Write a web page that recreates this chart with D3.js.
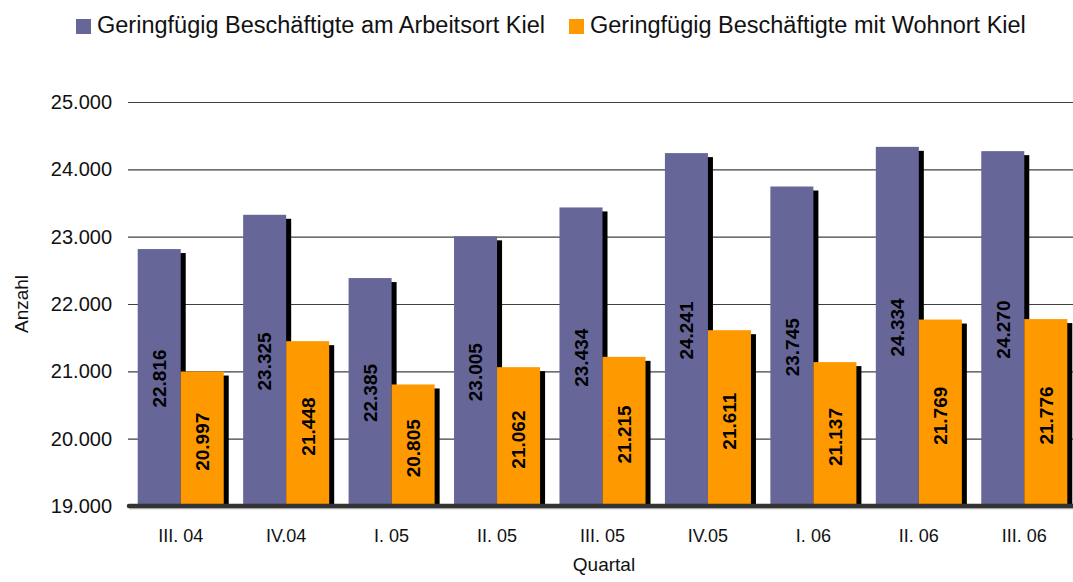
<!DOCTYPE html>
<html lang="en">
  <head>
    <meta charset="utf-8">
    <title>Geringfuegig Beschaeftigte Kiel</title>
    <script src="https://d3js.org/d3.v7.min.js"></script>
    <style>
      body { margin: 0; background: #fff; }
      text { font-family: "Liberation Sans", Arial, sans-serif; }
    </style>
  </head>

  <body>

  <script>

  // data
  var quartale = ["III. 04", "IV.04", "I. 05", "II. 05", "III. 05", "IV.05", "I. 06", "II. 06", "III. 06"];
  var arbeitsort = [22816, 23325, 22385, 23005, 23434, 24241, 23745, 24334, 24270];
  var wohnort = [20997, 21448, 20805, 21062, 21215, 21611, 21137, 21769, 21776];
  var serien = ["Geringfügig Beschäftigte am Arbeitsort Kiel", "Geringfügig Beschäftigte mit Wohnort Kiel"];
  var yTicks = [19000, 20000, 21000, 22000, 23000, 24000, 25000];

  var farben = ["#666699", "#ff9900"];

  var w = 1073;
  var h = 582;
  var margin = {top: 102, right: -4, bottom: 76, left: 128};

  var de = d3.formatLocale({decimal: ",", thousands: ".", grouping: [3], currency: ["", " €"]});
  var fmt = de.format(",d");

  var data = quartale.map(function(q, i) {
    return {q: q, werte: [arbeitsort[i], wohnort[i]]};
  });

  var svg = d3.select("body")
    .append("svg")
      .attr("width", w)
      .attr("height", h);

  var x0 = d3.scaleBand()
      .domain(quartale)
      .range([margin.left, w - margin.right])
      .paddingInner(0.184)
      .paddingOuter(0.092);

  var x1 = d3.scaleBand()
      .domain([0, 1])
      .range([0, x0.bandwidth()]);

  var y = d3.scaleLinear()
      .domain([19000, 25000])
      .range([h - margin.bottom, margin.top]);

  // gridlines + y labels
  var yAxis = d3.axisLeft(y)
      .tickValues(yTicks)
      .tickSize(-(w - margin.left))
      .tickPadding(16)
      .tickFormat(fmt);

  var gy = svg.append("g")
      .attr("class", "yAxis")
      .attr("transform", `translate(${margin.left}, 0)`)
      .call(yAxis);

  gy.select(".domain").remove();
  gy.selectAll("line")
      .attr("stroke", "#404040")
      .attr("stroke-width", 1.2);
  gy.selectAll("text")
      .attr("fill", "#111")
      .style("font-size", "20px");

  var groups = svg.append("g")
    .selectAll("g")
    .data(data)
    .enter().append("g")
      .attr("transform", d => `translate(${x0(d.q)}, 0)`);

  // shadows first, then bars on top
  groups.selectAll("rect.shadow")
    .data(d => d.werte)
    .enter().append("rect")
      .attr("class", "shadow")
      .attr("x", (d, i) => x1(i) + 5)
      .attr("y", d => y(d) + 4)
      .attr("width", x1.bandwidth())
      .attr("height", d => y(19000) - y(d) - 4)
      .attr("fill", "#000");

  groups.selectAll("rect.bar")
    .data(d => d.werte)
    .enter().append("rect")
      .attr("class", "bar")
      .attr("x", (d, i) => x1(i))
      .attr("y", d => y(d))
      .attr("width", x1.bandwidth())
      .attr("height", d => y(19000) - y(d))
      .attr("fill", (d, i) => farben[i]);

  groups.selectAll("text.wert")
    .data(d => d.werte)
    .enter().append("text")
      .attr("class", "wert")
      .attr("transform", (d, i) => {
        var cx = x1(i) + x1.bandwidth() / 2;
        var cy = (y(d) + y(19000)) / 2 + (i === 1 ? 3 : 1);
        return `translate(${cx}, ${cy}) rotate(-90)`;
      })
      .attr("text-anchor", "middle")
      .attr("dy", "0.36em")
      .style("font-size", "19px")
      .style("font-weight", "bold")
      .attr("fill", "#000")
      .text(d => fmt(d));

  // x axis line
  svg.append("line")
      .attr("x1", margin.left + 1)
      .attr("x2", w)
      .attr("y1", y(19000) + 2)
      .attr("y2", y(19000) + 2)
      .attr("stroke", "#d0d0d0")
      .attr("stroke-width", 3);

  svg.append("line")
      .attr("x1", margin.left + 1)
      .attr("x2", w)
      .attr("y1", y(19000))
      .attr("y2", y(19000))
      .attr("stroke", "#333")
      .attr("stroke-width", 4.5)
      .attr("stroke-linecap", "round");

  var xAxis = d3.axisBottom(x0).tickSize(0).tickPadding(0);

  var gx = svg.append("g")
      .attr("class", "xAxis")
      .attr("transform", `translate(0, ${y(19000)})`)
      .call(xAxis);

  gx.select(".domain").remove();
  gx.selectAll("text")
      .attr("dy", null)
      .attr("y", 36)
      .attr("fill", "#111")
      .style("font-size", "18px");

  // axis titles
  svg.append("text")
      .attr("x", 604)
      .attr("y", 571)
      .attr("text-anchor", "middle")
      .style("font-size", "19px")
      .attr("fill", "#111")
      .text("Quartal");

  svg.append("text")
      .attr("transform", "translate(28, 304) rotate(-90)")
      .attr("text-anchor", "middle")
      .style("font-size", "19px")
      .attr("fill", "#111")
      .text("Anzahl");

  // legend
  var legX = [76, 569];
  var leg = svg.append("g")
    .selectAll("g")
    .data(serien)
    .enter().append("g")
      .attr("transform", (d, i) => `translate(${legX[i]}, 19)`);

  leg.append("rect")
      .attr("width", 15)
      .attr("height", 15)
      .attr("fill", (d, i) => farben[i]);

  leg.append("text")
      .attr("x", 21)
      .attr("y", 14)
      .style("font-size", "23.5px")
      .attr("fill", "#111")
      .text(d => d);

  </script>

  </body>

</html>
